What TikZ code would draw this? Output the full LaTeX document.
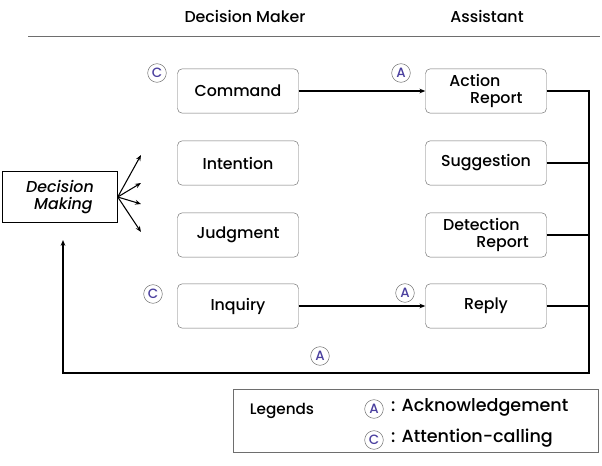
\documentclass[tikz,border=0pt]{standalone}
\usepackage{fontspec}
\setmainfont{Poppins}[UprightFont={* Medium}, ItalicFont={* Medium Italic}]
\usetikzlibrary{arrows.meta}

\definecolor{markblue}{HTML}{4A3F9E}
\definecolor{boxgray}{HTML}{6E6E6E}

\tikzset{
    msgbox/.style={draw=boxgray, rounded corners=4pt, minimum width=3.63cm, minimum height=1.33cm, font=\fontsize{13.5}{15}\selectfont, align=left},
    tag/.style={draw=boxgray, circle, minimum size=0.56cm, inner sep=0pt, text=markblue, font=\fontsize{11.5}{12}\selectfont},
    arr/.style={-{Stealth[length=5pt,width=4pt]}, line width=0.9pt}
}

\begin{document}
\begin{tikzpicture}[x=0.03cm, y=-0.03cm]
    \useasboundingbox (0,0) rectangle (602,466);

    % headers
    \node (dm) at (245,16) {\fontsize{13.5}{15}\selectfont Decision Maker};
    \node (as) at (487,16) {\fontsize{13.5}{15}\selectfont Assistant};
    \draw[boxgray, line width=0.7pt] (28,36) -- (600,36);

    % decision maker side
    \node (cmd) at (238,91) [msgbox] {Command};
    \node (int) at (238,163) [msgbox] {Intention};
    \node (jdg) at (238,235) [msgbox] {Judgment};
    \node (inq) at (238,306) [msgbox] {Inquiry};

    % assistant side
    \node (ar) at (486,91) [msgbox] {Action\\\hspace{1.3em}Report};
    \node (sg) at (486,163) [msgbox] {Suggestion};
    \node (dr) at (486,235) [msgbox] {Detection\\\hspace{2.1em}Report};
    \node (rp) at (486,306) [msgbox] {Reply};

    % decision making
    \node (dmk) at (60,197) [draw, minimum width=3.45cm, minimum height=1.53cm, font=\fontsize{13.5}{15}\selectfont\itshape, align=left] {Decision\\\hspace{0.5em}Making};

    \foreach \i/\y in {1/155, 2/183, 3/204, 4/232}
        \draw[arr] (dmk.east) -- (141,\y);

    % messages
    \draw[arr] (cmd.east) -- (ar.west);
    \draw[arr] (inq.east) -- (rp.west);

    % return path
    \coordinate (rt) at (589,91);
    \coordinate (rb) at (589,373);
    \coordinate (lb) at (63,373);
    \coordinate (up) at (63,240);
    \draw[arr] (ar.east) -- (rt) -- (rb) -- (lb) -- (up);
    \draw[line width=0.9pt] (sg.east) -- (sg.east -| rt);
    \draw[line width=0.9pt] (dr.east) -- (dr.east -| rt);
    \draw[line width=0.9pt] (rp.east) -- (rp.east -| rt);

    % marks
    \node (c1) at (157,73) [tag] {C};
    \node (a1) at (401,73) [tag] {A};
    \node (c2) at (153,294) [tag] {C};
    \node (a2) at (405,293) [tag] {A};
    \node (a3) at (320,356) [tag] {A};

    % legend
    \node (leg) at (415.5,421) [draw=boxgray, minimum width=10.95cm, minimum height=1.9cm] {};
    \node (lt) at (282,411) {\fontsize{13}{15}\selectfont Legends};
    \node (la) at (374,409) [tag] {A};
    \node (lc) at (374,440) [tag] {C};
    \node (lat) [anchor=west] at (387,407) {\fontsize{15}{16}\selectfont : Acknowledgement};
    \node (lct) [anchor=west] at (387,438) {\fontsize{15}{16}\selectfont : Attention-calling};
\end{tikzpicture}
\end{document}
